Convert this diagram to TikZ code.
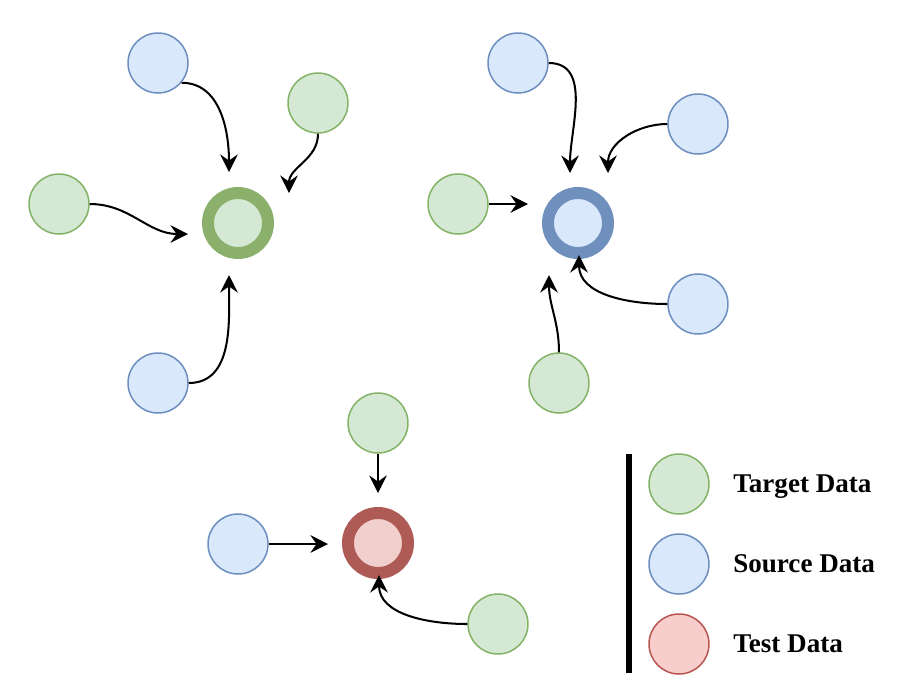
\documentclass[tikz,border=0pt]{standalone}
\usepackage{fontspec}
\setmainfont{Liberation Serif}
\usepackage{tikz}
\definecolor{greenfill}{HTML}{D5E8D4}
\definecolor{greenline}{HTML}{82B366}
\definecolor{bluefill}{HTML}{DAE8FC}
\definecolor{blueline}{HTML}{6C8EBF}
\definecolor{redfill}{HTML}{F8CECC}
\definecolor{redline}{HTML}{B85450}
\definecolor{greenring}{HTML}{8AB06C}
\definecolor{bluering}{HTML}{6F8FBD}
\definecolor{redring}{HTML}{AE5B55}
\definecolor{redcore}{HTML}{F1CFCD}
\usetikzlibrary{arrows.meta}
\tikzset{
  datanode/.style = {circle, inner sep=0pt, minimum size=1.2cm,
    line width=0.85pt},
  dat_t/.style = {datanode, draw=greenline, fill=greenfill},% target data
  dat_s/.style = {datanode, draw=blueline, fill=bluefill},% source data
  dat_x/.style = {datanode, draw=redline, fill=redfill},% test data
  hub/.style = {circle, inner sep=0pt, minimum size=1.2cm,
    line width=0.24cm},
  hub_t/.style = {hub, draw=greenring, fill=greenfill},% hub, target
  hub_s/.style = {hub, draw=bluering, fill=bluefill},% hub, source
  hub_x/.style = {hub, draw=redring, fill=redcore},% hub, test
  link/.style = {->, line width=1.15pt},
  legtext/.style = {anchor=base west, inner sep=0pt,
    font=\fontsize{15.4}{18}\selectfont\bfseries},
}

\begin{document}
\begin{tikzpicture}[x=0.02cm, y=0.02cm,
  >={Stealth[length=10pt,width=10pt,inset=3.5pt]},
]
\useasboundingbox (0,0) rectangle (914,-698);

% target cluster
\node [hub_t] (h1) at (238,-223) {};
\node [dat_s] (s1) at (158,-63) {};
\node [dat_t] (t1) at (318,-103) {};
\node [dat_t] (t2) at (59,-204) {};
\node [dat_s] (s2) at (158,-383) {};
\coordinate (h1n) at (229,-172);
\coordinate (h1ne) at (289,-193);
\coordinate (h1w) at (188,-234);
\coordinate (h1s) at (229,-275);
\draw [link] (s1.-40) to[out=0,in=90] (h1n);
\draw [link] (t1.south) to[out=-90,in=90] (h1ne);
\draw [link] (t2.east) to[out=0,in=180] (h1w);
\draw [link] (s2.east) to[out=0,in=-90] (h1s);

% source cluster
\node [hub_s] (h2) at (578,-223) {};
\node [dat_s] (s3) at (518,-63) {};
\node [dat_s] (s4) at (698,-124) {};
\node [dat_t] (t3) at (458,-204) {};
\node [dat_s] (s5) at (698,-304) {};
\node [dat_t] (t4) at (559,-383) {};
\coordinate (h2n) at (570,-173);
\coordinate (h2ne) at (608,-173);
\coordinate (h2w) at (528,-204);
\coordinate (h2s) at (579,-255);
\coordinate (h2sw) at (549,-275);
\draw [link] (s3.east) to[out=0,in=90] (h2n);
\draw [link] (s4.west) to[out=180,in=90] (h2ne);
\draw [link] (t3.east) -- (h2w);
\draw [link] (s5.west) to[out=180,in=-90] (h2s);
\draw [link] (t4.north) to[out=90,in=-90] (h2sw);

% test cluster
\node [hub_x] (h3) at (378,-543) {};
\node [dat_t] (t5) at (378,-423) {};
\node [dat_s] (s6) at (238,-544) {};
\node [dat_t] (t6) at (498,-624) {};
\coordinate (h3n) at (378,-493);
\coordinate (h3w) at (328,-544);
\coordinate (h3s) at (379,-575);
\draw [link] (t5.south) -- (h3n);
\draw [link] (s6.east) -- (h3w);
\draw [link] (t6.west) to[out=180,in=-90] (h3s);

% legend
\coordinate (bartop) at (629,-454);
\coordinate (barbot) at (629,-673);
\draw [line width=0.12cm] (bartop) -- (barbot);
\node [dat_t] (lt) at (679,-484) {};
\node [dat_s] (ls) at (679,-564) {};
\node [dat_x] (lx) at (679,-644) {};
\node [legtext] (ltt) at (733,-492) {Target Data};
\node [legtext] (lts) at (733,-572) {Source Data};
\node [legtext] (ltx) at (733,-652) {Test Data};
\end{tikzpicture}
\end{document}
